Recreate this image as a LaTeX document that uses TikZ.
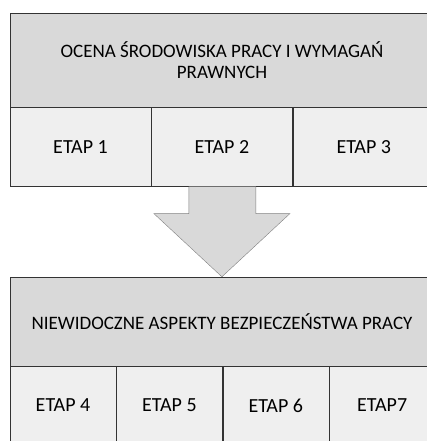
\documentclass[tikz,border=0pt]{standalone}
\usepackage{fontspec}
\setmainfont{Carlito}
\usetikzlibrary{positioning,calc}
\definecolor{headgray}{HTML}{D9D9D9}
\definecolor{stagegray}{HTML}{EFEFEF}
\definecolor{arrowline}{HTML}{808080}
\begin{document}
\begin{tikzpicture}[x=1pt, y=-1pt,
                    head/.style={draw=black!80, fill=headgray, inner sep=0pt,
                                 minimum width=424pt, align=center,
                                 font=\fontsize{19}{21}\selectfont},
                    stage/.style={draw=black!80, fill=stagegray, inner sep=0pt,
                                  font=\fontsize{20}{20}\selectfont}]
  \clip (0,0) rectangle (427,441);
  % upper block
  \node[head, minimum height=94pt] (ocena) at (222,60)
    {OCENA ŚRODOWISKA PRACY I WYMAGAŃ\\PRAWNYCH};
  \node[stage, minimum width=141pt, minimum height=79pt, below=0pt of ocena.south west, anchor=north west] (etap1) {ETAP 1};
  \node[stage, minimum width=141pt, minimum height=79pt, right=0pt of etap1] (etap2) {ETAP 2};
  \node[stage, minimum width=142pt, minimum height=79pt, right=0pt of etap2] (etap3) {ETAP 3};
  % lower block
  \node[head, minimum height=89pt] (aspekty) at (222,321.5)
    {NIEWIDOCZNE ASPEKTY BEZPIECZEŃSTWA PRACY};
  \node[stage, minimum width=106pt, minimum height=78pt, below=0pt of aspekty.south west, anchor=north west] (etap4) {ETAP 4};
  \node[stage, minimum width=106pt, minimum height=78pt, right=0pt of etap4] (etap5) {ETAP 5};
  \node[stage, minimum width=106pt, minimum height=78pt, right=0pt of etap5] (etap6) {ETAP 6};
  \node[stage, minimum width=106pt, minimum height=78pt, right=0pt of etap6] (etap7) {ETAP7};
  % arrow between the blocks
  \coordinate (tip) at (aspekty.north -| etap2.south);
  \filldraw[fill=headgray, draw=arrowline]
    ($(etap2.south)+(-33,0)$) -- ++(0,27) -- ++(-35,0) -- (tip)
    -- ($(etap2.south)+(68,27)$) -- ++(-34,0) -- ($(etap2.south)+(34,0)$);
\end{tikzpicture}
\end{document}
